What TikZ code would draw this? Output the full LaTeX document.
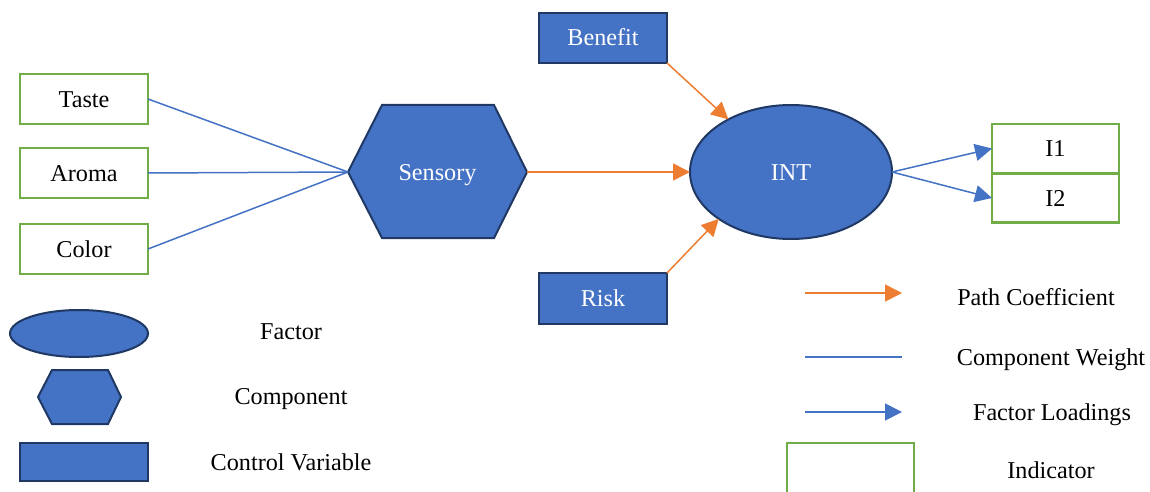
\documentclass[tikz,border=0pt]{standalone}
\usepackage{fontspec}
\setmainfont{Liberation Serif}
\usetikzlibrary{arrows.meta,shapes.geometric}
\definecolor{fillblue}{HTML}{4472C4}
\definecolor{darkblue}{HTML}{203864}
\definecolor{igreen}{HTML}{70AD47}
\definecolor{porange}{HTML}{ED7D31}
\begin{document}
\begin{tikzpicture}[x=0.5pt,y=-0.5pt,
  every node/.style={font=\fontsize{12.1}{14.5}\selectfont, inner sep=0pt, outer sep=0pt, text height=0.9em, text depth=0.1em},
  ind/.style={draw=igreen, line width=1.2pt, fill=white, minimum width=63.5pt, minimum height=24.5pt},
  ctrl/.style={draw=darkblue, line width=1pt, fill=fillblue, text=white, minimum width=64pt, minimum height=25pt},
  fact/.style={ellipse, draw=darkblue, line width=1pt, fill=fillblue, text=white},
  hexst/.style={draw=darkblue, line width=1pt, fill=fillblue, line join=miter},
  wt/.style={draw=fillblue, line width=0.75pt},
  pc/.style={draw=porange, line width=0.75pt, -{Triangle[length=8.5pt,width=8.5pt]}, porange},
  fl/.style={draw=fillblue, line width=0.75pt, -{Triangle[length=8.5pt,width=8.5pt]}, fillblue},
  lab/.style={text=black}
]
\useasboundingbox (0,0) rectangle (1150,492);

% indicators
\node[ind, minimum width=64pt, minimum height=25pt] (taste) at (84,99) {Taste};
\node[ind, minimum width=64pt, minimum height=25pt] (aroma) at (84,173) {Aroma};
\node[ind, minimum width=64pt, minimum height=25pt] (color) at (84,249) {Color};

% Sensory hexagon
\draw[hexst] (348,172) -- (382,105) -- (494,105) -- (527,172) -- (494,238) -- (382,238) -- cycle;
\node[minimum width=89.5pt, minimum height=66.5pt, text=white] (sens) at (437.5,172) {Sensory};

% INT
\node[fact, minimum width=101pt, minimum height=67pt] (int) at (791,172) {INT};

% control variables
\node[ctrl] (ben) at (603,38) {Benefit};
\node[ctrl, minimum height=25.5pt] (risk) at (603,298.5) {Risk};

% I1, I2
\node[ind] (i1) at (1055.5,148.5) {I1};
\node[ind] (i2) at (1055.5,198) {I2};

% connectors
\draw[wt] (taste.east) -- (sens.west);
\draw[wt] (aroma.east) -- (sens.west);
\draw[wt] (color.east) -- (sens.west);
\draw[pc] (sens.east) -- (int.west);
\draw[pc] (ben.south east) -- (int.140);
\draw[pc] (risk.north east) -- (int.213);
\draw[fl] (int.east) -- (i1.west);
\draw[fl] (int.east) -- (i2.west);

% legend left
\node[fact, minimum width=69pt, minimum height=23.5pt] (lfac) at (79,333.5) {};
\draw[hexst] (38,397) -- (52,370) -- (108,370) -- (121,397) -- (108,424) -- (52,424) -- cycle;
\node[minimum width=41.5pt, minimum height=27pt] (lcomp) at (79.5,397) {};
\node[ctrl, minimum height=19pt] (lctrl) at (84,462) {};
\node[lab] (tfac) at (291,331) {Factor};
\node[lab] (tcomp) at (291,396) {Component};
\node[lab] (tctrl) at (291,462) {Control Variable};

% legend right
\coordinate (pa) at (805,293);
\coordinate (pb) at (902,293);
\coordinate (wa) at (805,357);
\coordinate (wb) at (902,357);
\coordinate (fa) at (805,412);
\coordinate (fb) at (902,412);
\draw[pc] (pa) -- (pb);
\draw[wt] (wa) -- (wb);
\draw[fl] (fa) -- (fb);
\node[ind, minimum height=26.5pt] (lind) at (850.5,469.5) {};
\node[lab] (tpc) at (1036,297) {Path Coefficient};
\node[lab] (tcw) at (1051,357) {Component Weight};
\node[lab] (tfl) at (1052,412) {Factor Loadings};
\node[lab] (tind) at (1051,470) {Indicator};
\end{tikzpicture}
\end{document}
